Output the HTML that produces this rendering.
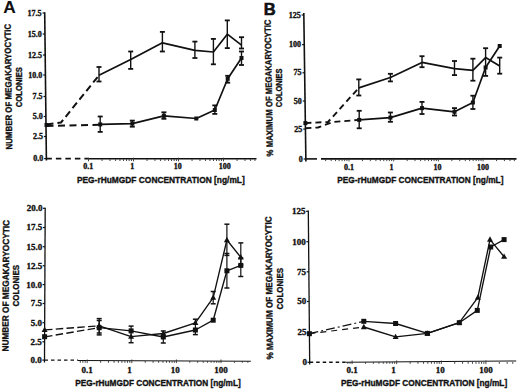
<!DOCTYPE html>
<html><head><meta charset="utf-8"><style>
html,body{margin:0;padding:0;background:#fff;width:520px;height:390px;overflow:hidden}
svg{display:block}
</style></head><body>
<svg width="520" height="390" viewBox="0 0 520 390">
<rect width="520" height="390" fill="#fff"/>
<text x="3.2" y="12.7" font-family='"Liberation Sans", sans-serif' font-size="17.3" font-weight="bold" text-anchor="start" fill="#111" stroke="#111" stroke-width="0.1">A</text>
<line x1="44.7" y1="12.2" x2="46.4" y2="160.4" stroke="#111" stroke-width="1.6"/>
<line x1="42.51" y1="13" x2="44.71" y2="13" stroke="#111" stroke-width="1.2"/>
<text x="41.51" y="15.64" font-family='"Liberation Serif", serif' font-size="8" font-weight="bold" text-anchor="end" fill="#111" stroke="#111" stroke-width="0.35">17.5</text>
<line x1="42.75" y1="34" x2="44.95" y2="34" stroke="#111" stroke-width="1.2"/>
<text x="41.75" y="36.64" font-family='"Liberation Serif", serif' font-size="8" font-weight="bold" text-anchor="end" fill="#111" stroke="#111" stroke-width="0.35">15.0</text>
<line x1="42.99" y1="55" x2="45.19" y2="55" stroke="#111" stroke-width="1.2"/>
<text x="41.99" y="57.64" font-family='"Liberation Serif", serif' font-size="8" font-weight="bold" text-anchor="end" fill="#111" stroke="#111" stroke-width="0.35">12.5</text>
<line x1="43.22" y1="75" x2="45.42" y2="75" stroke="#111" stroke-width="1.2"/>
<text x="42.22" y="77.64" font-family='"Liberation Serif", serif' font-size="8" font-weight="bold" text-anchor="end" fill="#111" stroke="#111" stroke-width="0.35">10.0</text>
<line x1="43.47" y1="96.5" x2="45.67" y2="96.5" stroke="#111" stroke-width="1.2"/>
<text x="42.47" y="99.14" font-family='"Liberation Serif", serif' font-size="8" font-weight="bold" text-anchor="end" fill="#111" stroke="#111" stroke-width="0.35">7.5</text>
<line x1="43.7" y1="116.5" x2="45.9" y2="116.5" stroke="#111" stroke-width="1.2"/>
<text x="42.7" y="119.14" font-family='"Liberation Serif", serif' font-size="8" font-weight="bold" text-anchor="end" fill="#111" stroke="#111" stroke-width="0.35">5.0</text>
<line x1="43.93" y1="136.5" x2="46.13" y2="136.5" stroke="#111" stroke-width="1.2"/>
<text x="42.93" y="139.14" font-family='"Liberation Serif", serif' font-size="8" font-weight="bold" text-anchor="end" fill="#111" stroke="#111" stroke-width="0.35">2.5</text>
<line x1="44.18" y1="158.6" x2="46.38" y2="158.6" stroke="#111" stroke-width="1.2"/>
<text x="43.18" y="161.24" font-family='"Liberation Serif", serif' font-size="8" font-weight="bold" text-anchor="end" fill="#111" stroke="#111" stroke-width="0.35">0.0</text>
<line x1="46.38" y1="158.6" x2="88.5" y2="158.6" stroke="#111" stroke-width="1.6" stroke-dasharray="5.5,4"/>
<line x1="88.5" y1="158.8" x2="256.5" y2="158.8" stroke="#111" stroke-width="1.6"/>
<line x1="88.5" y1="157.7" x2="88.5" y2="161.3" stroke="#333" stroke-width="0.9"/>
<line x1="102.05" y1="159.2" x2="102.05" y2="161" stroke="#333" stroke-width="0.9"/>
<line x1="109.97" y1="159.2" x2="109.97" y2="161" stroke="#333" stroke-width="0.9"/>
<line x1="115.59" y1="159.2" x2="115.59" y2="161" stroke="#333" stroke-width="0.9"/>
<line x1="119.95" y1="159.2" x2="119.95" y2="161" stroke="#333" stroke-width="0.9"/>
<line x1="123.52" y1="159.2" x2="123.52" y2="161" stroke="#333" stroke-width="0.9"/>
<line x1="126.53" y1="159.2" x2="126.53" y2="161" stroke="#333" stroke-width="0.9"/>
<line x1="129.14" y1="159.2" x2="129.14" y2="161" stroke="#333" stroke-width="0.9"/>
<line x1="131.44" y1="159.2" x2="131.44" y2="161" stroke="#333" stroke-width="0.9"/>
<line x1="133.5" y1="157.7" x2="133.5" y2="161.3" stroke="#333" stroke-width="0.9"/>
<line x1="147.05" y1="159.2" x2="147.05" y2="161" stroke="#333" stroke-width="0.9"/>
<line x1="154.97" y1="159.2" x2="154.97" y2="161" stroke="#333" stroke-width="0.9"/>
<line x1="160.59" y1="159.2" x2="160.59" y2="161" stroke="#333" stroke-width="0.9"/>
<line x1="164.95" y1="159.2" x2="164.95" y2="161" stroke="#333" stroke-width="0.9"/>
<line x1="168.52" y1="159.2" x2="168.52" y2="161" stroke="#333" stroke-width="0.9"/>
<line x1="171.53" y1="159.2" x2="171.53" y2="161" stroke="#333" stroke-width="0.9"/>
<line x1="174.14" y1="159.2" x2="174.14" y2="161" stroke="#333" stroke-width="0.9"/>
<line x1="176.44" y1="159.2" x2="176.44" y2="161" stroke="#333" stroke-width="0.9"/>
<line x1="178.5" y1="157.7" x2="178.5" y2="161.3" stroke="#333" stroke-width="0.9"/>
<line x1="192.05" y1="159.2" x2="192.05" y2="161" stroke="#333" stroke-width="0.9"/>
<line x1="199.97" y1="159.2" x2="199.97" y2="161" stroke="#333" stroke-width="0.9"/>
<line x1="205.59" y1="159.2" x2="205.59" y2="161" stroke="#333" stroke-width="0.9"/>
<line x1="209.95" y1="159.2" x2="209.95" y2="161" stroke="#333" stroke-width="0.9"/>
<line x1="213.52" y1="159.2" x2="213.52" y2="161" stroke="#333" stroke-width="0.9"/>
<line x1="216.53" y1="159.2" x2="216.53" y2="161" stroke="#333" stroke-width="0.9"/>
<line x1="219.14" y1="159.2" x2="219.14" y2="161" stroke="#333" stroke-width="0.9"/>
<line x1="221.44" y1="159.2" x2="221.44" y2="161" stroke="#333" stroke-width="0.9"/>
<line x1="223.5" y1="157.7" x2="223.5" y2="161.3" stroke="#333" stroke-width="0.9"/>
<line x1="237.05" y1="159.2" x2="237.05" y2="161" stroke="#333" stroke-width="0.9"/>
<line x1="244.97" y1="159.2" x2="244.97" y2="161" stroke="#333" stroke-width="0.9"/>
<line x1="250.59" y1="159.2" x2="250.59" y2="161" stroke="#333" stroke-width="0.9"/>
<line x1="254.95" y1="159.2" x2="254.95" y2="161" stroke="#333" stroke-width="0.9"/>
<text x="88.2" y="169.2" font-family='"Liberation Serif", serif' font-size="8" font-weight="bold" text-anchor="middle" fill="#111" stroke="#111" stroke-width="0.35">0.1</text>
<text x="132.3" y="169.2" font-family='"Liberation Serif", serif' font-size="8" font-weight="bold" text-anchor="middle" fill="#111" stroke="#111" stroke-width="0.35">1</text>
<text x="177.8" y="169.2" font-family='"Liberation Serif", serif' font-size="8" font-weight="bold" text-anchor="middle" fill="#111" stroke="#111" stroke-width="0.35">10</text>
<text x="224.8" y="169.2" font-family='"Liberation Serif", serif' font-size="8" font-weight="bold" text-anchor="middle" fill="#111" stroke="#111" stroke-width="0.35">100</text>
<text x="76.9" y="183" font-family='"Liberation Sans", sans-serif' font-size="9" font-weight="bold" text-anchor="start" fill="#111" textLength="167.9" lengthAdjust="spacingAndGlyphs" stroke="#111" stroke-width="0.35">PEG-rHuMGDF CONCENTRATION [ng/mL]</text>
<text x="12.22" y="149.56" font-family='"Liberation Sans", sans-serif' font-size="9" font-weight="bold" text-anchor="start" fill="#111" textLength="125.81" lengthAdjust="spacingAndGlyphs" transform="rotate(-90.68 12.22 149.56)" stroke="#111" stroke-width="0.35">NUMBER OF MEGAKARYOCYTIC</text>
<text x="21.52" y="107.2" font-family='"Liberation Sans", sans-serif' font-size="9" font-weight="bold" text-anchor="start" fill="#111" textLength="40.2" lengthAdjust="spacingAndGlyphs" transform="rotate(-90 21.52 107.2)" stroke="#111" stroke-width="0.35">COLONIES</text>
<polyline points="46.5,124.5 61,122.5 99,75.3" fill="none" stroke="#111" stroke-width="2" stroke-linejoin="round" stroke-dasharray="7,4"/>
<polyline points="99,75.3 130.7,59.6 162.4,42.8 194.9,50.4 213.4,52 227.3,34.2 241.5,45.1" fill="none" stroke="#111" stroke-width="1.7" stroke-linejoin="round"/>
<line x1="99" y1="67" x2="99" y2="81.5" stroke="#111" stroke-width="1.4"/>
<line x1="96.5" y1="67" x2="101.5" y2="67" stroke="#111" stroke-width="1.8"/>
<line x1="96.5" y1="81.5" x2="101.5" y2="81.5" stroke="#111" stroke-width="1.8"/>
<line x1="130.7" y1="51.5" x2="130.7" y2="68.9" stroke="#111" stroke-width="1.4"/>
<line x1="128.2" y1="51.5" x2="133.2" y2="51.5" stroke="#111" stroke-width="1.8"/>
<line x1="128.2" y1="68.9" x2="133.2" y2="68.9" stroke="#111" stroke-width="1.8"/>
<line x1="162.4" y1="31.9" x2="162.4" y2="51.5" stroke="#111" stroke-width="1.4"/>
<line x1="159.9" y1="31.9" x2="164.9" y2="31.9" stroke="#111" stroke-width="1.8"/>
<line x1="159.9" y1="51.5" x2="164.9" y2="51.5" stroke="#111" stroke-width="1.8"/>
<line x1="194.9" y1="41.6" x2="194.9" y2="58" stroke="#111" stroke-width="1.4"/>
<line x1="192.4" y1="41.6" x2="197.4" y2="41.6" stroke="#111" stroke-width="1.8"/>
<line x1="192.4" y1="58" x2="197.4" y2="58" stroke="#111" stroke-width="1.8"/>
<line x1="213.4" y1="38.9" x2="213.4" y2="64.3" stroke="#111" stroke-width="1.4"/>
<line x1="210.9" y1="38.9" x2="215.9" y2="38.9" stroke="#111" stroke-width="1.8"/>
<line x1="210.9" y1="64.3" x2="215.9" y2="64.3" stroke="#111" stroke-width="1.8"/>
<line x1="227.3" y1="20.4" x2="227.3" y2="48.1" stroke="#111" stroke-width="1.4"/>
<line x1="224.8" y1="20.4" x2="229.8" y2="20.4" stroke="#111" stroke-width="1.8"/>
<line x1="224.8" y1="48.1" x2="229.8" y2="48.1" stroke="#111" stroke-width="1.8"/>
<line x1="241.5" y1="37.2" x2="241.5" y2="48.5" stroke="#111" stroke-width="1.4"/>
<line x1="239" y1="37.2" x2="244" y2="37.2" stroke="#111" stroke-width="1.8"/>
<line x1="239" y1="48.5" x2="244" y2="48.5" stroke="#111" stroke-width="1.8"/>
<line x1="241.5" y1="51.5" x2="241.5" y2="65" stroke="#111" stroke-width="1.4"/>
<line x1="239" y1="51.5" x2="244" y2="51.5" stroke="#111" stroke-width="1.8"/>
<line x1="239" y1="65" x2="244" y2="65" stroke="#111" stroke-width="1.8"/>
<polyline points="46.5,126 100.2,124.8" fill="none" stroke="#111" stroke-width="2" stroke-linejoin="round" stroke-dasharray="7,4.5"/>
<polyline points="100.2,124.4 132.3,123.6 163.9,115.8 196.3,118.5 214.8,110 227.7,78.8 241.5,58" fill="none" stroke="#111" stroke-width="1.7" stroke-linejoin="round"/>
<line x1="100.2" y1="116.5" x2="100.2" y2="131.9" stroke="#111" stroke-width="1.4"/>
<line x1="97.7" y1="116.5" x2="102.7" y2="116.5" stroke="#111" stroke-width="1.8"/>
<line x1="97.7" y1="131.9" x2="102.7" y2="131.9" stroke="#111" stroke-width="1.8"/>
<line x1="132.3" y1="120.6" x2="132.3" y2="126.7" stroke="#111" stroke-width="1.4"/>
<line x1="129.8" y1="120.6" x2="134.8" y2="120.6" stroke="#111" stroke-width="1.8"/>
<line x1="129.8" y1="126.7" x2="134.8" y2="126.7" stroke="#111" stroke-width="1.8"/>
<line x1="163.9" y1="112.3" x2="163.9" y2="118.8" stroke="#111" stroke-width="1.4"/>
<line x1="161.4" y1="112.3" x2="166.4" y2="112.3" stroke="#111" stroke-width="1.8"/>
<line x1="161.4" y1="118.8" x2="166.4" y2="118.8" stroke="#111" stroke-width="1.8"/>
<line x1="214.8" y1="105.4" x2="214.8" y2="113.9" stroke="#111" stroke-width="1.4"/>
<line x1="212.3" y1="105.4" x2="217.3" y2="105.4" stroke="#111" stroke-width="1.8"/>
<line x1="212.3" y1="113.9" x2="217.3" y2="113.9" stroke="#111" stroke-width="1.8"/>
<line x1="227.7" y1="75.8" x2="227.7" y2="82.7" stroke="#111" stroke-width="1.4"/>
<line x1="225.2" y1="75.8" x2="230.2" y2="75.8" stroke="#111" stroke-width="1.8"/>
<line x1="225.2" y1="82.7" x2="230.2" y2="82.7" stroke="#111" stroke-width="1.8"/>
<rect x="44.5" y="123" width="4" height="4" fill="#111"/>
<rect x="98.2" y="122.4" width="4" height="4" fill="#111"/>
<rect x="130.3" y="121.6" width="4" height="4" fill="#111"/>
<rect x="161.9" y="113.8" width="4" height="4" fill="#111"/>
<rect x="194.3" y="116.5" width="4" height="4" fill="#111"/>
<rect x="212.8" y="108" width="4" height="4" fill="#111"/>
<rect x="225.7" y="76.8" width="4" height="4" fill="#111"/>
<rect x="239.5" y="56" width="4" height="4" fill="#111"/>
<text x="263.8" y="14.6" font-family='"Liberation Sans", sans-serif' font-size="16.5" font-weight="bold" text-anchor="start" fill="#111" stroke="#111" stroke-width="0.6">B</text>
<line x1="303.8" y1="12.9" x2="305.9" y2="161.4" stroke="#111" stroke-width="1.6"/>
<line x1="301.63" y1="15" x2="303.83" y2="15" stroke="#111" stroke-width="1.2"/>
<text x="300.63" y="17.64" font-family='"Liberation Serif", serif' font-size="8" font-weight="bold" text-anchor="end" fill="#111" stroke="#111" stroke-width="0.35">125</text>
<line x1="302.05" y1="44.6" x2="304.25" y2="44.6" stroke="#111" stroke-width="1.2"/>
<text x="301.05" y="47.24" font-family='"Liberation Serif", serif' font-size="8" font-weight="bold" text-anchor="end" fill="#111" stroke="#111" stroke-width="0.35">100</text>
<line x1="302.45" y1="72.8" x2="304.65" y2="72.8" stroke="#111" stroke-width="1.2"/>
<text x="301.45" y="75.44" font-family='"Liberation Serif", serif' font-size="8" font-weight="bold" text-anchor="end" fill="#111" stroke="#111" stroke-width="0.35">75</text>
<line x1="302.85" y1="101" x2="305.05" y2="101" stroke="#111" stroke-width="1.2"/>
<text x="301.85" y="103.64" font-family='"Liberation Serif", serif' font-size="8" font-weight="bold" text-anchor="end" fill="#111" stroke="#111" stroke-width="0.35">50</text>
<line x1="303.24" y1="129.1" x2="305.44" y2="129.1" stroke="#111" stroke-width="1.2"/>
<text x="302.24" y="131.74" font-family='"Liberation Serif", serif' font-size="8" font-weight="bold" text-anchor="end" fill="#111" stroke="#111" stroke-width="0.35">25</text>
<line x1="303.67" y1="159" x2="305.87" y2="159" stroke="#111" stroke-width="1.2"/>
<text x="302.67" y="161.64" font-family='"Liberation Serif", serif' font-size="8" font-weight="bold" text-anchor="end" fill="#111" stroke="#111" stroke-width="0.35">0</text>
<line x1="305.86" y1="158.9" x2="317" y2="158.9" stroke="#111" stroke-width="1.6"/>
<line x1="321" y1="158.9" x2="516.5" y2="158.9" stroke="#111" stroke-width="1.6"/>
<line x1="325.63" y1="159.3" x2="325.63" y2="161.1" stroke="#333" stroke-width="0.9"/>
<line x1="331.21" y1="159.3" x2="331.21" y2="161.1" stroke="#333" stroke-width="0.9"/>
<line x1="335.54" y1="159.3" x2="335.54" y2="161.1" stroke="#333" stroke-width="0.9"/>
<line x1="339.08" y1="159.3" x2="339.08" y2="161.1" stroke="#333" stroke-width="0.9"/>
<line x1="342.08" y1="159.3" x2="342.08" y2="161.1" stroke="#333" stroke-width="0.9"/>
<line x1="344.67" y1="159.3" x2="344.67" y2="161.1" stroke="#333" stroke-width="0.9"/>
<line x1="346.95" y1="159.3" x2="346.95" y2="161.1" stroke="#333" stroke-width="0.9"/>
<line x1="349" y1="157.8" x2="349" y2="161.4" stroke="#333" stroke-width="0.9"/>
<line x1="362.46" y1="159.3" x2="362.46" y2="161.1" stroke="#333" stroke-width="0.9"/>
<line x1="370.33" y1="159.3" x2="370.33" y2="161.1" stroke="#333" stroke-width="0.9"/>
<line x1="375.91" y1="159.3" x2="375.91" y2="161.1" stroke="#333" stroke-width="0.9"/>
<line x1="380.24" y1="159.3" x2="380.24" y2="161.1" stroke="#333" stroke-width="0.9"/>
<line x1="383.78" y1="159.3" x2="383.78" y2="161.1" stroke="#333" stroke-width="0.9"/>
<line x1="386.78" y1="159.3" x2="386.78" y2="161.1" stroke="#333" stroke-width="0.9"/>
<line x1="389.37" y1="159.3" x2="389.37" y2="161.1" stroke="#333" stroke-width="0.9"/>
<line x1="391.65" y1="159.3" x2="391.65" y2="161.1" stroke="#333" stroke-width="0.9"/>
<line x1="393.7" y1="157.8" x2="393.7" y2="161.4" stroke="#333" stroke-width="0.9"/>
<line x1="407.16" y1="159.3" x2="407.16" y2="161.1" stroke="#333" stroke-width="0.9"/>
<line x1="415.03" y1="159.3" x2="415.03" y2="161.1" stroke="#333" stroke-width="0.9"/>
<line x1="420.61" y1="159.3" x2="420.61" y2="161.1" stroke="#333" stroke-width="0.9"/>
<line x1="424.94" y1="159.3" x2="424.94" y2="161.1" stroke="#333" stroke-width="0.9"/>
<line x1="428.48" y1="159.3" x2="428.48" y2="161.1" stroke="#333" stroke-width="0.9"/>
<line x1="431.48" y1="159.3" x2="431.48" y2="161.1" stroke="#333" stroke-width="0.9"/>
<line x1="434.07" y1="159.3" x2="434.07" y2="161.1" stroke="#333" stroke-width="0.9"/>
<line x1="436.35" y1="159.3" x2="436.35" y2="161.1" stroke="#333" stroke-width="0.9"/>
<line x1="438.4" y1="157.8" x2="438.4" y2="161.4" stroke="#333" stroke-width="0.9"/>
<line x1="451.86" y1="159.3" x2="451.86" y2="161.1" stroke="#333" stroke-width="0.9"/>
<line x1="459.73" y1="159.3" x2="459.73" y2="161.1" stroke="#333" stroke-width="0.9"/>
<line x1="465.31" y1="159.3" x2="465.31" y2="161.1" stroke="#333" stroke-width="0.9"/>
<line x1="469.64" y1="159.3" x2="469.64" y2="161.1" stroke="#333" stroke-width="0.9"/>
<line x1="473.18" y1="159.3" x2="473.18" y2="161.1" stroke="#333" stroke-width="0.9"/>
<line x1="476.18" y1="159.3" x2="476.18" y2="161.1" stroke="#333" stroke-width="0.9"/>
<line x1="478.77" y1="159.3" x2="478.77" y2="161.1" stroke="#333" stroke-width="0.9"/>
<line x1="481.05" y1="159.3" x2="481.05" y2="161.1" stroke="#333" stroke-width="0.9"/>
<line x1="483.1" y1="157.8" x2="483.1" y2="161.4" stroke="#333" stroke-width="0.9"/>
<line x1="496.56" y1="159.3" x2="496.56" y2="161.1" stroke="#333" stroke-width="0.9"/>
<line x1="504.43" y1="159.3" x2="504.43" y2="161.1" stroke="#333" stroke-width="0.9"/>
<line x1="510.01" y1="159.3" x2="510.01" y2="161.1" stroke="#333" stroke-width="0.9"/>
<line x1="514.34" y1="159.3" x2="514.34" y2="161.1" stroke="#333" stroke-width="0.9"/>
<text x="349" y="170" font-family='"Liberation Serif", serif' font-size="8" font-weight="bold" text-anchor="middle" fill="#111" stroke="#111" stroke-width="0.35">0.1</text>
<text x="391.4" y="170" font-family='"Liberation Serif", serif' font-size="8" font-weight="bold" text-anchor="middle" fill="#111" stroke="#111" stroke-width="0.35">1</text>
<text x="437.6" y="170" font-family='"Liberation Serif", serif' font-size="8" font-weight="bold" text-anchor="middle" fill="#111" stroke="#111" stroke-width="0.35">10</text>
<text x="483.1" y="170" font-family='"Liberation Serif", serif' font-size="8" font-weight="bold" text-anchor="middle" fill="#111" stroke="#111" stroke-width="0.35">100</text>
<text x="337.3" y="183" font-family='"Liberation Sans", sans-serif' font-size="9" font-weight="bold" text-anchor="start" fill="#111" textLength="166.1" lengthAdjust="spacingAndGlyphs" stroke="#111" stroke-width="0.35">PEG-rHuMGDF CONCENTRATION [ng/mL]</text>
<text x="273.02" y="156.44" font-family='"Liberation Sans", sans-serif' font-size="9" font-weight="bold" text-anchor="start" fill="#111" textLength="136.92" lengthAdjust="spacingAndGlyphs" transform="rotate(-91 273.02 156.44)" stroke="#111" stroke-width="0.35">% MAXIMUM OF MEGAKARYOCYTIC</text>
<text x="282.02" y="107.2" font-family='"Liberation Sans", sans-serif' font-size="9" font-weight="bold" text-anchor="start" fill="#111" textLength="38.7" lengthAdjust="spacingAndGlyphs" transform="rotate(-90 282.02 107.2)" stroke="#111" stroke-width="0.35">COLONIES</text>
<polyline points="305.4,123.1 328,122 358.8,87.9" fill="none" stroke="#111" stroke-width="1.9" stroke-linejoin="round" stroke-dasharray="6,4"/>
<polyline points="358.8,87.9 390.4,77.5 422,62.4 454.5,68.6 472.9,70.3 485.6,57.6 499.7,66" fill="none" stroke="#111" stroke-width="1.7" stroke-linejoin="round"/>
<line x1="358.8" y1="79.4" x2="358.8" y2="95.5" stroke="#111" stroke-width="1.4"/>
<line x1="356.3" y1="79.4" x2="361.3" y2="79.4" stroke="#111" stroke-width="1.8"/>
<line x1="356.3" y1="95.5" x2="361.3" y2="95.5" stroke="#111" stroke-width="1.8"/>
<line x1="390.4" y1="73.8" x2="390.4" y2="81.4" stroke="#111" stroke-width="1.4"/>
<line x1="387.9" y1="73.8" x2="392.9" y2="73.8" stroke="#111" stroke-width="1.8"/>
<line x1="387.9" y1="81.4" x2="392.9" y2="81.4" stroke="#111" stroke-width="1.8"/>
<line x1="422" y1="56.2" x2="422" y2="67.2" stroke="#111" stroke-width="1.4"/>
<line x1="419.5" y1="56.2" x2="424.5" y2="56.2" stroke="#111" stroke-width="1.8"/>
<line x1="419.5" y1="67.2" x2="424.5" y2="67.2" stroke="#111" stroke-width="1.8"/>
<line x1="454.5" y1="61" x2="454.5" y2="75.1" stroke="#111" stroke-width="1.4"/>
<line x1="452" y1="61" x2="457" y2="61" stroke="#111" stroke-width="1.8"/>
<line x1="452" y1="75.1" x2="457" y2="75.1" stroke="#111" stroke-width="1.8"/>
<line x1="472.9" y1="58.7" x2="472.9" y2="80.7" stroke="#111" stroke-width="1.4"/>
<line x1="470.4" y1="58.7" x2="475.4" y2="58.7" stroke="#111" stroke-width="1.8"/>
<line x1="470.4" y1="80.7" x2="475.4" y2="80.7" stroke="#111" stroke-width="1.8"/>
<line x1="485.6" y1="48.2" x2="485.6" y2="75.9" stroke="#111" stroke-width="1.4"/>
<line x1="483.1" y1="48.2" x2="488.1" y2="48.2" stroke="#111" stroke-width="1.8"/>
<line x1="483.1" y1="75.9" x2="488.1" y2="75.9" stroke="#111" stroke-width="1.8"/>
<line x1="499.7" y1="57.6" x2="499.7" y2="73.7" stroke="#111" stroke-width="1.4"/>
<line x1="497.2" y1="57.6" x2="502.2" y2="57.6" stroke="#111" stroke-width="1.8"/>
<line x1="497.2" y1="73.7" x2="502.2" y2="73.7" stroke="#111" stroke-width="1.8"/>
<polyline points="305.4,128.3 318,127.5 333,122 359.2,119.9" fill="none" stroke="#111" stroke-width="1.9" stroke-linejoin="round" stroke-dasharray="6,4"/>
<polyline points="359.2,119.9 390.4,117.6 422,108.1 454.5,111.8 472.9,102.5 485.6,67.5 499.7,46" fill="none" stroke="#111" stroke-width="1.7" stroke-linejoin="round"/>
<line x1="359.2" y1="110.8" x2="359.2" y2="128.3" stroke="#111" stroke-width="1.4"/>
<line x1="356.7" y1="110.8" x2="361.7" y2="110.8" stroke="#111" stroke-width="1.8"/>
<line x1="356.7" y1="128.3" x2="361.7" y2="128.3" stroke="#111" stroke-width="1.8"/>
<line x1="390.4" y1="112.5" x2="390.4" y2="121.8" stroke="#111" stroke-width="1.4"/>
<line x1="387.9" y1="112.5" x2="392.9" y2="112.5" stroke="#111" stroke-width="1.8"/>
<line x1="387.9" y1="121.8" x2="392.9" y2="121.8" stroke="#111" stroke-width="1.8"/>
<line x1="422" y1="101.9" x2="422" y2="114" stroke="#111" stroke-width="1.4"/>
<line x1="419.5" y1="101.9" x2="424.5" y2="101.9" stroke="#111" stroke-width="1.8"/>
<line x1="419.5" y1="114" x2="424.5" y2="114" stroke="#111" stroke-width="1.8"/>
<line x1="454.5" y1="108.1" x2="454.5" y2="115.5" stroke="#111" stroke-width="1.4"/>
<line x1="452" y1="108.1" x2="457" y2="108.1" stroke="#111" stroke-width="1.8"/>
<line x1="452" y1="115.5" x2="457" y2="115.5" stroke="#111" stroke-width="1.8"/>
<line x1="472.9" y1="95.7" x2="472.9" y2="109" stroke="#111" stroke-width="1.4"/>
<line x1="470.4" y1="95.7" x2="475.4" y2="95.7" stroke="#111" stroke-width="1.8"/>
<line x1="470.4" y1="109" x2="475.4" y2="109" stroke="#111" stroke-width="1.8"/>
<rect x="303.4" y="121.1" width="4" height="4" fill="#111"/>
<rect x="357.2" y="117.9" width="4" height="4" fill="#111"/>
<rect x="388.4" y="115.6" width="4" height="4" fill="#111"/>
<rect x="420" y="106.1" width="4" height="4" fill="#111"/>
<rect x="452.5" y="109.8" width="4" height="4" fill="#111"/>
<rect x="470.9" y="100.5" width="4" height="4" fill="#111"/>
<rect x="483.6" y="65.5" width="4" height="4" fill="#111"/>
<rect x="497.7" y="44" width="4" height="4" fill="#111"/>
<line x1="45.2" y1="207.7" x2="44.5" y2="362.6" stroke="#111" stroke-width="1.3"/>
<line x1="43" y1="208.3" x2="45.2" y2="208.3" stroke="#111" stroke-width="1.2"/>
<text x="42.4" y="211.27" font-family='"Liberation Serif", serif' font-size="9" font-weight="bold" text-anchor="end" fill="#111" stroke="#111" stroke-width="0.35">20.0</text>
<line x1="42.91" y1="227.5" x2="45.11" y2="227.5" stroke="#111" stroke-width="1.2"/>
<text x="42.31" y="230.47" font-family='"Liberation Serif", serif' font-size="9" font-weight="bold" text-anchor="end" fill="#111" stroke="#111" stroke-width="0.35">17.5</text>
<line x1="42.82" y1="246.7" x2="45.02" y2="246.7" stroke="#111" stroke-width="1.2"/>
<text x="42.22" y="249.67" font-family='"Liberation Serif", serif' font-size="9" font-weight="bold" text-anchor="end" fill="#111" stroke="#111" stroke-width="0.35">15.0</text>
<line x1="42.74" y1="265.7" x2="44.94" y2="265.7" stroke="#111" stroke-width="1.2"/>
<text x="42.14" y="268.67" font-family='"Liberation Serif", serif' font-size="9" font-weight="bold" text-anchor="end" fill="#111" stroke="#111" stroke-width="0.35">12.5</text>
<line x1="42.65" y1="284.6" x2="44.85" y2="284.6" stroke="#111" stroke-width="1.2"/>
<text x="42.05" y="287.57" font-family='"Liberation Serif", serif' font-size="9" font-weight="bold" text-anchor="end" fill="#111" stroke="#111" stroke-width="0.35">10.0</text>
<line x1="42.57" y1="303.5" x2="44.77" y2="303.5" stroke="#111" stroke-width="1.2"/>
<text x="41.97" y="306.47" font-family='"Liberation Serif", serif' font-size="9" font-weight="bold" text-anchor="end" fill="#111" stroke="#111" stroke-width="0.35">7.5</text>
<line x1="42.48" y1="322.7" x2="44.68" y2="322.7" stroke="#111" stroke-width="1.2"/>
<text x="41.88" y="325.67" font-family='"Liberation Serif", serif' font-size="9" font-weight="bold" text-anchor="end" fill="#111" stroke="#111" stroke-width="0.35">5.0</text>
<line x1="42.39" y1="341.8" x2="44.59" y2="341.8" stroke="#111" stroke-width="1.2"/>
<text x="41.79" y="344.77" font-family='"Liberation Serif", serif' font-size="9" font-weight="bold" text-anchor="end" fill="#111" stroke="#111" stroke-width="0.35">2.5</text>
<line x1="42.31" y1="360.1" x2="44.51" y2="360.1" stroke="#111" stroke-width="1.2"/>
<text x="41.71" y="363.07" font-family='"Liberation Serif", serif' font-size="9" font-weight="bold" text-anchor="end" fill="#111" stroke="#111" stroke-width="0.35">0.0</text>
<line x1="44.51" y1="360.1" x2="78" y2="360.1" stroke="#111" stroke-width="1.4" stroke-dasharray="3.5,3"/>
<line x1="78" y1="360.5" x2="250.8" y2="361.2" stroke="#111" stroke-width="1.1"/>
<line x1="80.29" y1="361" x2="80.29" y2="362.8" stroke="#333" stroke-width="0.9"/>
<line x1="82.88" y1="361" x2="82.88" y2="362.8" stroke="#333" stroke-width="0.9"/>
<line x1="85.16" y1="361" x2="85.16" y2="362.8" stroke="#333" stroke-width="0.9"/>
<line x1="87.2" y1="359.5" x2="87.2" y2="363.1" stroke="#333" stroke-width="0.9"/>
<line x1="100.63" y1="361" x2="100.63" y2="362.8" stroke="#333" stroke-width="0.9"/>
<line x1="108.48" y1="361" x2="108.48" y2="362.8" stroke="#333" stroke-width="0.9"/>
<line x1="114.05" y1="361" x2="114.05" y2="362.8" stroke="#333" stroke-width="0.9"/>
<line x1="118.37" y1="361" x2="118.37" y2="362.8" stroke="#333" stroke-width="0.9"/>
<line x1="121.91" y1="361" x2="121.91" y2="362.8" stroke="#333" stroke-width="0.9"/>
<line x1="124.89" y1="361" x2="124.89" y2="362.8" stroke="#333" stroke-width="0.9"/>
<line x1="127.48" y1="361" x2="127.48" y2="362.8" stroke="#333" stroke-width="0.9"/>
<line x1="129.76" y1="361" x2="129.76" y2="362.8" stroke="#333" stroke-width="0.9"/>
<line x1="131.8" y1="359.5" x2="131.8" y2="363.1" stroke="#333" stroke-width="0.9"/>
<line x1="145.23" y1="361" x2="145.23" y2="362.8" stroke="#333" stroke-width="0.9"/>
<line x1="153.08" y1="361" x2="153.08" y2="362.8" stroke="#333" stroke-width="0.9"/>
<line x1="158.65" y1="361" x2="158.65" y2="362.8" stroke="#333" stroke-width="0.9"/>
<line x1="162.97" y1="361" x2="162.97" y2="362.8" stroke="#333" stroke-width="0.9"/>
<line x1="166.51" y1="361" x2="166.51" y2="362.8" stroke="#333" stroke-width="0.9"/>
<line x1="169.49" y1="361" x2="169.49" y2="362.8" stroke="#333" stroke-width="0.9"/>
<line x1="172.08" y1="361" x2="172.08" y2="362.8" stroke="#333" stroke-width="0.9"/>
<line x1="174.36" y1="361" x2="174.36" y2="362.8" stroke="#333" stroke-width="0.9"/>
<line x1="176.4" y1="359.5" x2="176.4" y2="363.1" stroke="#333" stroke-width="0.9"/>
<line x1="189.83" y1="361" x2="189.83" y2="362.8" stroke="#333" stroke-width="0.9"/>
<line x1="197.68" y1="361" x2="197.68" y2="362.8" stroke="#333" stroke-width="0.9"/>
<line x1="203.25" y1="361" x2="203.25" y2="362.8" stroke="#333" stroke-width="0.9"/>
<line x1="207.57" y1="361" x2="207.57" y2="362.8" stroke="#333" stroke-width="0.9"/>
<line x1="211.11" y1="361" x2="211.11" y2="362.8" stroke="#333" stroke-width="0.9"/>
<line x1="214.09" y1="361" x2="214.09" y2="362.8" stroke="#333" stroke-width="0.9"/>
<line x1="216.68" y1="361" x2="216.68" y2="362.8" stroke="#333" stroke-width="0.9"/>
<line x1="218.96" y1="361" x2="218.96" y2="362.8" stroke="#333" stroke-width="0.9"/>
<line x1="221" y1="359.5" x2="221" y2="363.1" stroke="#333" stroke-width="0.9"/>
<line x1="234.43" y1="361" x2="234.43" y2="362.8" stroke="#333" stroke-width="0.9"/>
<line x1="242.28" y1="361" x2="242.28" y2="362.8" stroke="#333" stroke-width="0.9"/>
<line x1="247.85" y1="361" x2="247.85" y2="362.8" stroke="#333" stroke-width="0.9"/>
<text x="87.2" y="372.7" font-family='"Liberation Serif", serif' font-size="9" font-weight="bold" text-anchor="middle" fill="#111" stroke="#111" stroke-width="0.35">0.1</text>
<text x="129.5" y="372.7" font-family='"Liberation Serif", serif' font-size="9" font-weight="bold" text-anchor="middle" fill="#111" stroke="#111" stroke-width="0.35">1</text>
<text x="175.2" y="372.7" font-family='"Liberation Serif", serif' font-size="9" font-weight="bold" text-anchor="middle" fill="#111" stroke="#111" stroke-width="0.35">10</text>
<text x="221" y="372.7" font-family='"Liberation Serif", serif' font-size="9" font-weight="bold" text-anchor="middle" fill="#111" stroke="#111" stroke-width="0.35">100</text>
<text x="75.2" y="386" font-family='"Liberation Sans", sans-serif' font-size="8.6" font-weight="bold" text-anchor="start" fill="#111" textLength="165.5" lengthAdjust="spacingAndGlyphs" stroke="#111" stroke-width="0.35">PEG-rHuMGDF CONCENTRATION [ng/mL]</text>
<text x="8.42" y="351.52" font-family='"Liberation Sans", sans-serif' font-size="9" font-weight="bold" text-anchor="start" fill="#111" textLength="131.5" lengthAdjust="spacingAndGlyphs" transform="rotate(-89.65 8.42 351.52)" stroke="#111" stroke-width="0.35">NUMBER OF MEGAKARYOCYTIC</text>
<text x="18.62" y="306.5" font-family='"Liberation Sans", sans-serif' font-size="9" font-weight="bold" text-anchor="start" fill="#111" textLength="41.5" lengthAdjust="spacingAndGlyphs" transform="rotate(-90 18.62 306.5)" stroke="#111" stroke-width="0.35">COLONIES</text>
<polyline points="45,329.9 99.2,325.8" fill="none" stroke="#111" stroke-width="1.35" stroke-linejoin="round" stroke-dasharray="7.5,3.3"/>
<polyline points="45,336.8 99.2,327.7" fill="none" stroke="#111" stroke-width="1.35" stroke-linejoin="round" stroke-dasharray="7.5,3.3"/>
<polyline points="99.2,325.8 131.1,336.7 163.3,333.5 195.4,322.9 213.2,297.7 226.9,240 240.8,257.3" fill="none" stroke="#111" stroke-width="1.35" stroke-linejoin="round"/>
<polyline points="99.2,327.7 131.1,330.9 163.3,337 195.4,330 213.2,320.2 226.9,270.8 240.8,265.4" fill="none" stroke="#111" stroke-width="1.35" stroke-linejoin="round"/>
<line x1="99.2" y1="318.6" x2="99.2" y2="333" stroke="#111" stroke-width="1.2"/>
<line x1="96.7" y1="318.6" x2="101.7" y2="318.6" stroke="#111" stroke-width="1.5"/>
<line x1="96.7" y1="333" x2="101.7" y2="333" stroke="#111" stroke-width="1.5"/>
<line x1="99.2" y1="320.5" x2="99.2" y2="334.9" stroke="#111" stroke-width="1.2"/>
<line x1="96.7" y1="320.5" x2="101.7" y2="320.5" stroke="#111" stroke-width="1.5"/>
<line x1="96.7" y1="334.9" x2="101.7" y2="334.9" stroke="#111" stroke-width="1.5"/>
<line x1="131.1" y1="326.1" x2="131.1" y2="342.7" stroke="#111" stroke-width="1.2"/>
<line x1="128.6" y1="326.1" x2="133.6" y2="326.1" stroke="#111" stroke-width="1.5"/>
<line x1="128.6" y1="342.7" x2="133.6" y2="342.7" stroke="#111" stroke-width="1.5"/>
<line x1="163.3" y1="331" x2="163.3" y2="343" stroke="#111" stroke-width="1.2"/>
<line x1="160.8" y1="331" x2="165.8" y2="331" stroke="#111" stroke-width="1.5"/>
<line x1="160.8" y1="343" x2="165.8" y2="343" stroke="#111" stroke-width="1.5"/>
<line x1="195.4" y1="319.2" x2="195.4" y2="334.6" stroke="#111" stroke-width="1.2"/>
<line x1="192.9" y1="319.2" x2="197.9" y2="319.2" stroke="#111" stroke-width="1.5"/>
<line x1="192.9" y1="334.6" x2="197.9" y2="334.6" stroke="#111" stroke-width="1.5"/>
<line x1="213.2" y1="291.5" x2="213.2" y2="303.8" stroke="#111" stroke-width="1.2"/>
<line x1="210.7" y1="291.5" x2="215.7" y2="291.5" stroke="#111" stroke-width="1.5"/>
<line x1="210.7" y1="303.8" x2="215.7" y2="303.8" stroke="#111" stroke-width="1.5"/>
<line x1="226.9" y1="224.2" x2="226.9" y2="255.4" stroke="#111" stroke-width="1.2"/>
<line x1="224.4" y1="224.2" x2="229.4" y2="224.2" stroke="#111" stroke-width="1.5"/>
<line x1="224.4" y1="255.4" x2="229.4" y2="255.4" stroke="#111" stroke-width="1.5"/>
<line x1="226.9" y1="253.5" x2="226.9" y2="288" stroke="#111" stroke-width="1.2"/>
<line x1="224.4" y1="253.5" x2="229.4" y2="253.5" stroke="#111" stroke-width="1.5"/>
<line x1="224.4" y1="288" x2="229.4" y2="288" stroke="#111" stroke-width="1.5"/>
<line x1="240.8" y1="242.9" x2="240.8" y2="265" stroke="#111" stroke-width="1.2"/>
<line x1="238.3" y1="242.9" x2="243.3" y2="242.9" stroke="#111" stroke-width="1.5"/>
<line x1="238.3" y1="265" x2="243.3" y2="265" stroke="#111" stroke-width="1.5"/>
<line x1="240.8" y1="258" x2="240.8" y2="276.5" stroke="#111" stroke-width="1.2"/>
<line x1="238.3" y1="258" x2="243.3" y2="258" stroke="#111" stroke-width="1.5"/>
<line x1="238.3" y1="276.5" x2="243.3" y2="276.5" stroke="#111" stroke-width="1.5"/>
<polygon points="44.6,326.66 41.6,332.06 47.6,332.06" fill="#111"/>
<rect x="42.1" y="334.2" width="5" height="5" fill="#111"/>
<polygon points="99.2,322.56 96.2,327.96 102.2,327.96" fill="#111"/>
<polygon points="131.1,333.46 128.1,338.86 134.1,338.86" fill="#111"/>
<polygon points="163.3,330.26 160.3,335.66 166.3,335.66" fill="#111"/>
<polygon points="195.4,319.66 192.4,325.06 198.4,325.06" fill="#111"/>
<polygon points="213.2,294.46 210.2,299.86 216.2,299.86" fill="#111"/>
<polygon points="226.9,236.76 223.9,242.16 229.9,242.16" fill="#111"/>
<polygon points="240.8,254.06 237.8,259.46 243.8,259.46" fill="#111"/>
<rect x="96.7" y="325.2" width="5" height="5" fill="#111"/>
<rect x="128.6" y="328.4" width="5" height="5" fill="#111"/>
<rect x="160.8" y="334.5" width="5" height="5" fill="#111"/>
<rect x="192.9" y="327.5" width="5" height="5" fill="#111"/>
<rect x="210.7" y="317.7" width="5" height="5" fill="#111"/>
<rect x="224.4" y="268.3" width="5" height="5" fill="#111"/>
<rect x="238.3" y="262.9" width="5" height="5" fill="#111"/>
<line x1="308.3" y1="210.4" x2="309.7" y2="364.6" stroke="#111" stroke-width="1.3"/>
<line x1="306.11" y1="211.3" x2="308.31" y2="211.3" stroke="#111" stroke-width="1.2"/>
<text x="305.51" y="214.27" font-family='"Liberation Serif", serif' font-size="9" font-weight="bold" text-anchor="end" fill="#111" stroke="#111" stroke-width="0.35">125</text>
<line x1="306.38" y1="241.7" x2="308.58" y2="241.7" stroke="#111" stroke-width="1.2"/>
<text x="305.78" y="244.67" font-family='"Liberation Serif", serif' font-size="9" font-weight="bold" text-anchor="end" fill="#111" stroke="#111" stroke-width="0.35">100</text>
<line x1="306.66" y1="271.8" x2="308.86" y2="271.8" stroke="#111" stroke-width="1.2"/>
<text x="306.06" y="274.77" font-family='"Liberation Serif", serif' font-size="9" font-weight="bold" text-anchor="end" fill="#111" stroke="#111" stroke-width="0.35">75</text>
<line x1="306.93" y1="301.5" x2="309.13" y2="301.5" stroke="#111" stroke-width="1.2"/>
<text x="306.33" y="304.47" font-family='"Liberation Serif", serif' font-size="9" font-weight="bold" text-anchor="end" fill="#111" stroke="#111" stroke-width="0.35">50</text>
<line x1="307.21" y1="332.4" x2="309.41" y2="332.4" stroke="#111" stroke-width="1.2"/>
<text x="306.61" y="335.37" font-family='"Liberation Serif", serif' font-size="9" font-weight="bold" text-anchor="end" fill="#111" stroke="#111" stroke-width="0.35">25</text>
<line x1="307.48" y1="362.3" x2="309.68" y2="362.3" stroke="#111" stroke-width="1.2"/>
<text x="306.88" y="365.27" font-family='"Liberation Serif", serif' font-size="9" font-weight="bold" text-anchor="end" fill="#111" stroke="#111" stroke-width="0.35">0</text>
<line x1="309.68" y1="362.3" x2="346" y2="362.3" stroke="#111" stroke-width="1.4" stroke-dasharray="3.5,3"/>
<line x1="346" y1="362.2" x2="516.2" y2="361" stroke="#111" stroke-width="1.1"/>
<line x1="347.78" y1="362" x2="347.78" y2="363.8" stroke="#333" stroke-width="0.9"/>
<line x1="350.06" y1="362" x2="350.06" y2="363.8" stroke="#333" stroke-width="0.9"/>
<line x1="352.1" y1="360.5" x2="352.1" y2="364.1" stroke="#333" stroke-width="0.9"/>
<line x1="365.53" y1="362" x2="365.53" y2="363.8" stroke="#333" stroke-width="0.9"/>
<line x1="373.38" y1="362" x2="373.38" y2="363.8" stroke="#333" stroke-width="0.9"/>
<line x1="378.95" y1="362" x2="378.95" y2="363.8" stroke="#333" stroke-width="0.9"/>
<line x1="383.27" y1="362" x2="383.27" y2="363.8" stroke="#333" stroke-width="0.9"/>
<line x1="386.81" y1="362" x2="386.81" y2="363.8" stroke="#333" stroke-width="0.9"/>
<line x1="389.79" y1="362" x2="389.79" y2="363.8" stroke="#333" stroke-width="0.9"/>
<line x1="392.38" y1="362" x2="392.38" y2="363.8" stroke="#333" stroke-width="0.9"/>
<line x1="394.66" y1="362" x2="394.66" y2="363.8" stroke="#333" stroke-width="0.9"/>
<line x1="396.7" y1="360.5" x2="396.7" y2="364.1" stroke="#333" stroke-width="0.9"/>
<line x1="410.13" y1="362" x2="410.13" y2="363.8" stroke="#333" stroke-width="0.9"/>
<line x1="417.98" y1="362" x2="417.98" y2="363.8" stroke="#333" stroke-width="0.9"/>
<line x1="423.55" y1="362" x2="423.55" y2="363.8" stroke="#333" stroke-width="0.9"/>
<line x1="427.87" y1="362" x2="427.87" y2="363.8" stroke="#333" stroke-width="0.9"/>
<line x1="431.41" y1="362" x2="431.41" y2="363.8" stroke="#333" stroke-width="0.9"/>
<line x1="434.39" y1="362" x2="434.39" y2="363.8" stroke="#333" stroke-width="0.9"/>
<line x1="436.98" y1="362" x2="436.98" y2="363.8" stroke="#333" stroke-width="0.9"/>
<line x1="439.26" y1="362" x2="439.26" y2="363.8" stroke="#333" stroke-width="0.9"/>
<line x1="441.3" y1="360.5" x2="441.3" y2="364.1" stroke="#333" stroke-width="0.9"/>
<line x1="454.73" y1="362" x2="454.73" y2="363.8" stroke="#333" stroke-width="0.9"/>
<line x1="462.58" y1="362" x2="462.58" y2="363.8" stroke="#333" stroke-width="0.9"/>
<line x1="468.15" y1="362" x2="468.15" y2="363.8" stroke="#333" stroke-width="0.9"/>
<line x1="472.47" y1="362" x2="472.47" y2="363.8" stroke="#333" stroke-width="0.9"/>
<line x1="476.01" y1="362" x2="476.01" y2="363.8" stroke="#333" stroke-width="0.9"/>
<line x1="478.99" y1="362" x2="478.99" y2="363.8" stroke="#333" stroke-width="0.9"/>
<line x1="481.58" y1="362" x2="481.58" y2="363.8" stroke="#333" stroke-width="0.9"/>
<line x1="483.86" y1="362" x2="483.86" y2="363.8" stroke="#333" stroke-width="0.9"/>
<line x1="485.9" y1="360.5" x2="485.9" y2="364.1" stroke="#333" stroke-width="0.9"/>
<line x1="499.33" y1="362" x2="499.33" y2="363.8" stroke="#333" stroke-width="0.9"/>
<line x1="507.18" y1="362" x2="507.18" y2="363.8" stroke="#333" stroke-width="0.9"/>
<line x1="512.75" y1="362" x2="512.75" y2="363.8" stroke="#333" stroke-width="0.9"/>
<text x="352.1" y="373.4" font-family='"Liberation Serif", serif' font-size="9" font-weight="bold" text-anchor="middle" fill="#111" stroke="#111" stroke-width="0.35">0.1</text>
<text x="393.5" y="373.4" font-family='"Liberation Serif", serif' font-size="9" font-weight="bold" text-anchor="middle" fill="#111" stroke="#111" stroke-width="0.35">1</text>
<text x="440.2" y="373.4" font-family='"Liberation Serif", serif' font-size="9" font-weight="bold" text-anchor="middle" fill="#111" stroke="#111" stroke-width="0.35">10</text>
<text x="485.9" y="373.4" font-family='"Liberation Serif", serif' font-size="9" font-weight="bold" text-anchor="middle" fill="#111" stroke="#111" stroke-width="0.35">100</text>
<text x="341" y="386" font-family='"Liberation Sans", sans-serif' font-size="8.6" font-weight="bold" text-anchor="start" fill="#111" textLength="166.2" lengthAdjust="spacingAndGlyphs" stroke="#111" stroke-width="0.35">PEG-rHuMGDF CONCENTRATION [ng/mL]</text>
<text x="273.02" y="359.56" font-family='"Liberation Sans", sans-serif' font-size="9" font-weight="bold" text-anchor="start" fill="#111" textLength="143.11" lengthAdjust="spacingAndGlyphs" transform="rotate(-90.64 273.02 359.56)" stroke="#111" stroke-width="0.35">% MAXIMUM OF MEGAKARYOCYTIC</text>
<text x="282.72" y="309.5" font-family='"Liberation Sans", sans-serif' font-size="9" font-weight="bold" text-anchor="start" fill="#111" textLength="41.5" lengthAdjust="spacingAndGlyphs" transform="rotate(-90 282.72 309.5)" stroke="#111" stroke-width="0.35">COLONIES</text>
<polyline points="309.4,333.7 363.8,321.3" fill="none" stroke="#111" stroke-width="1.2" stroke-linejoin="round" stroke-dasharray="9,3,2,3"/>
<polyline points="309.4,333.7 363.8,327" fill="none" stroke="#111" stroke-width="1.2" stroke-linejoin="round" stroke-dasharray="6,5"/>
<polyline points="363.8,321.3 395.6,323.5 427.4,333.4 459.3,322.7 477.3,310.4 490.7,247 504.1,239.6" fill="none" stroke="#111" stroke-width="1.35" stroke-linejoin="round"/>
<polyline points="363.8,327 395.6,336.9 427.4,333.4 459.3,322.7 477.8,297.7 490,239.6 504.1,256.7" fill="none" stroke="#111" stroke-width="1.35" stroke-linejoin="round"/>
<rect x="306.9" y="331.2" width="5" height="5" fill="#111"/>
<polygon points="363.8,323.76 360.8,329.16 366.8,329.16" fill="#111"/>
<polygon points="395.6,333.66 392.6,339.06 398.6,339.06" fill="#111"/>
<polygon points="427.4,330.16 424.4,335.56 430.4,335.56" fill="#111"/>
<polygon points="459.3,319.46 456.3,324.86 462.3,324.86" fill="#111"/>
<polygon points="477.8,294.46 474.8,299.86 480.8,299.86" fill="#111"/>
<polygon points="490,236.36 487,241.76 493,241.76" fill="#111"/>
<polygon points="504.1,253.46 501.1,258.86 507.1,258.86" fill="#111"/>
<rect x="361.3" y="318.8" width="5" height="5" fill="#111"/>
<rect x="393.1" y="321" width="5" height="5" fill="#111"/>
<rect x="424.9" y="330.9" width="5" height="5" fill="#111"/>
<rect x="456.8" y="320.2" width="5" height="5" fill="#111"/>
<rect x="474.8" y="307.9" width="5" height="5" fill="#111"/>
<rect x="488.2" y="244.5" width="5" height="5" fill="#111"/>
<rect x="501.6" y="237.1" width="5" height="5" fill="#111"/>
</svg>
</body></html>
